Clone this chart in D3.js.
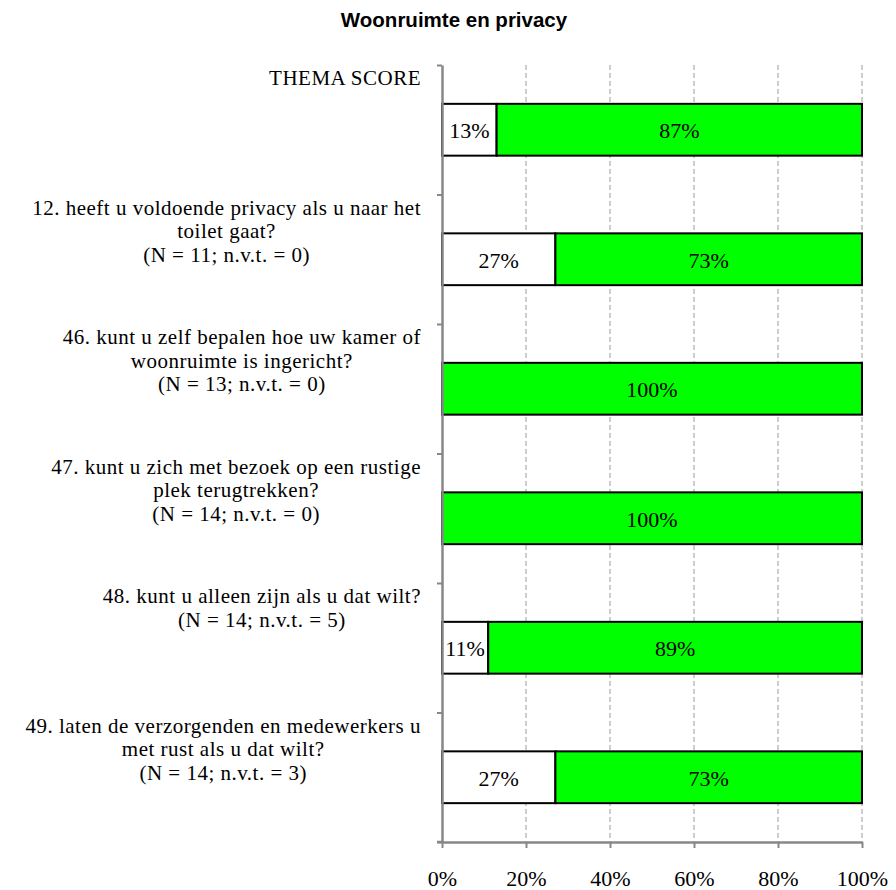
<!DOCTYPE html>
<html>
<head>
<meta charset="utf-8">
<script src="https://cdn.jsdelivr.net/npm/d3@7"></script>
<style>
  body { margin: 0; background: #fff; }
</style>
</head>
<body>
<div id="container"></div>
<script>
"use strict";

const width = 896;
const height = 890;
const plotLeft = 442;
const plotRight = 862;
const plotTop = 65;
const plotBottom = 842;

const greenColor = "#00FF00";
const axisColor = "#878787";
const gridColor = "#BEBEBE";

const title = "Woonruimte en privacy";

// category labels, one entry per line as in the picture
const categories = [
  ["THEMA SCORE"],
  ["12. heeft u voldoende privacy als u naar het", "toilet gaat?", "(N = 11; n.v.t. = 0)"],
  ["46. kunt u zelf bepalen hoe uw kamer of", "woonruimte is ingericht?", "(N = 13; n.v.t. = 0)"],
  ["47. kunt u zich met bezoek op een rustige", "plek terugtrekken?", "(N = 14; n.v.t. = 0)"],
  ["48. kunt u alleen zijn als u dat wilt?", "(N = 14; n.v.t. = 5)"],
  ["49. laten de verzorgenden en medewerkers u", "met rust als u dat wilt?", "(N = 14; n.v.t. = 3)"],
];

const noValues = [13, 27, 0, 0, 11, 27];
const yesValues = [87, 73, 100, 100, 89, 73];

const tickValues = [0, 20, 40, 60, 80, 100];

const rows = categories.map((c, i) => ({
  key: i,
  lines: c,
  no: noValues[i],
  yes: yesValues[i],
}));

const serif = "'Liberation Serif', 'Times New Roman', serif";

const svg = d3
  .select("#container")
  .append("svg")
  .attr("width", width)
  .attr("height", height);

const xScale = d3.scaleLinear().domain([0, 100]).range([plotLeft, plotRight]);

const yScale = d3
  .scaleBand()
  .domain(rows.map((d) => d.key))
  .range([plotTop, plotBottom])
  .paddingInner(0.6)
  .paddingOuter(0.3);

const yIndex = d3
  .scaleLinear()
  .domain([0, rows.length])
  .range([plotTop, plotBottom]);

// title
svg
  .append("text")
  .attr("x", 454)
  .attr("y", 27)
  .attr("text-anchor", "middle")
  .style("font-family", "'Liberation Sans', Arial, sans-serif")
  .style("font-weight", "bold")
  .style("font-size", "20.5px")
  .text(title);

// grid lines
svg
  .append("g")
  .selectAll("line")
  .data(tickValues.filter((t) => t > 0))
  .enter()
  .append("line")
  .attr("x1", (d) => xScale(d))
  .attr("x2", (d) => xScale(d))
  .attr("y1", plotTop)
  .attr("y2", plotBottom)
  .attr("stroke", gridColor)
  .attr("stroke-width", 1.5)
  .attr("stroke-dasharray", "5,3");

// bars
const bars = svg.append("g");

bars
  .selectAll("rect.no")
  .data(rows.filter((d) => d.no > 0))
  .enter()
  .append("rect")
  .attr("class", "no")
  .attr("x", (d) => xScale(0))
  .attr("y", (d) => yScale(d.key))
  .attr("width", (d) => xScale(d.no) - xScale(0))
  .attr("height", yScale.bandwidth())
  .attr("fill", "#fff")
  .attr("stroke", "#000")
  .attr("stroke-width", 2);

bars
  .selectAll("rect.yes")
  .data(rows)
  .enter()
  .append("rect")
  .attr("class", "yes")
  .attr("x", (d) => xScale(d.no))
  .attr("y", (d) => yScale(d.key))
  .attr("width", (d) => xScale(d.no + d.yes) - xScale(d.no))
  .attr("height", yScale.bandwidth())
  .attr("fill", greenColor)
  .attr("stroke", "#000")
  .attr("stroke-width", 2);

const labelStyle = (sel) =>
  sel
    .attr("text-anchor", "middle")
    .attr("dominant-baseline", "central")
    .style("font-family", serif)
    .style("font-size", "22px");

bars
  .selectAll("text.no")
  .data(rows.filter((d) => d.no > 0))
  .enter()
  .append("text")
  .attr("class", "no")
  .attr("x", (d) => xScale(d.no / 2))
  .attr("y", (d) => yScale(d.key) + yScale.bandwidth() / 2 + 1)
  .call(labelStyle)
  .text((d) => d.no + "%");

bars
  .selectAll("text.yes")
  .data(rows)
  .enter()
  .append("text")
  .attr("class", "yes")
  .attr("x", (d) => xScale(d.no + d.yes / 2))
  .attr("y", (d) => yScale(d.key) + yScale.bandwidth() / 2 + 1)
  .call(labelStyle)
  .text((d) => d.yes + "%");

// left axis with ticks between categories
const yAxis = d3
  .axisLeft(yIndex)
  .ticks(rows.length)
  .tickFormat("")
  .tickSizeInner(5)
  .tickSizeOuter(0);

const yAxisG = svg
  .append("g")
  .attr("transform", `translate(${plotLeft}, 0)`)
  .call(yAxis);

yAxisG.select(".domain").attr("stroke", axisColor).attr("stroke-width", 2.5);
yAxisG.selectAll(".tick line").attr("stroke", axisColor).attr("stroke-width", 2);

// bottom axis
const xAxis = d3
  .axisBottom(xScale)
  .tickValues(tickValues)
  .tickFormat((d) => d + "%")
  .tickSizeInner(6)
  .tickSizeOuter(0)
  .tickPadding(22);

const xAxisG = svg
  .append("g")
  .attr("transform", `translate(0, ${plotBottom})`)
  .call(xAxis);

xAxisG.select(".domain").attr("stroke", axisColor).attr("stroke-width", 2.5);
xAxisG.selectAll(".tick line").attr("stroke", axisColor).attr("stroke-width", 2);
xAxisG
  .selectAll(".tick text")
  .style("font-family", serif)
  .style("font-size", "22px")
  .attr("fill", "#000");

// extend the baseline a bit to the left like the reference
svg
  .append("line")
  .attr("x1", plotLeft - 5)
  .attr("x2", plotLeft)
  .attr("y1", plotBottom)
  .attr("y2", plotBottom)
  .attr("stroke", axisColor)
  .attr("stroke-width", 2.5);

// category labels: lines centred within a block that is right-aligned
const labelRight = 421;
const lineHeight = 23.5;

rows.forEach((d) => {
  const g = svg.append("g");
  const texts = g
    .selectAll("text")
    .data(d.lines)
    .enter()
    .append("text")
    .attr("y", (_l, i) => yIndex(d.key) + 13 + i * lineHeight)
    .attr("dominant-baseline", "central")
    .attr("text-anchor", "middle")
    .style("font-family", serif)
    .style("font-size", "21px")
    .style("letter-spacing", "0.5px")
    .text((l) => l);
  const maxW = d3.max(texts.nodes(), (n) => n.getComputedTextLength());
  texts.attr("x", labelRight - maxW / 2);
});
</script>
</body>
</html>
